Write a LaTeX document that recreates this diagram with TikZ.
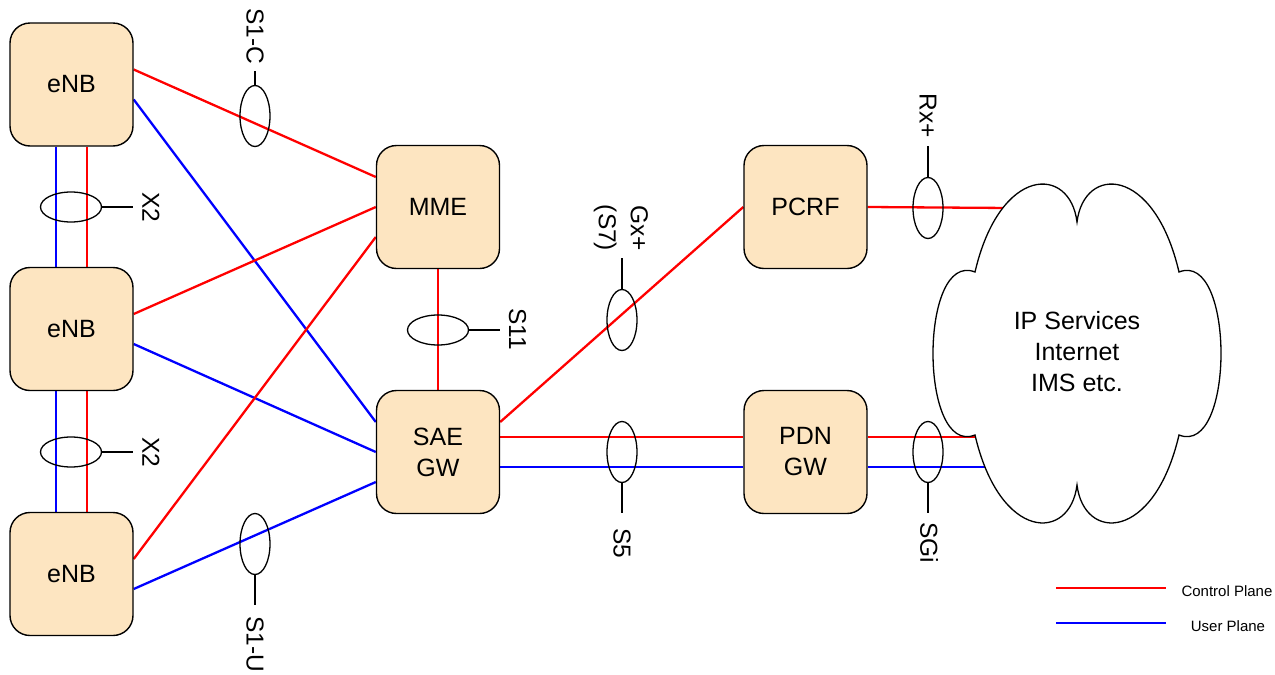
\documentclass[tikz,border=0pt]{standalone}
\usepackage{fontspec}
\setmainfont{Liberation Sans}
\usetikzlibrary{shapes.geometric,calc}
\pgfdeclarelayer{background}
\pgfsetlayers{background,main}
\definecolor{boxfill}{RGB}{253,229,193}
\begin{document}
\begin{tikzpicture}[x=1pt,y=-1pt,
  box/.style={draw=black, line width=1.4pt, fill=boxfill, rounded corners=20pt,
    minimum width=123pt, minimum height=123pt, align=center,
    font=\fontsize{25}{31}\selectfont, inner sep=0pt},
  ctrl/.style={draw={rgb,255:red,255;green,0;blue,0}, line width=2.3pt},
  usr/.style={draw={rgb,255:red,0;green,0;blue,255}, line width=2.3pt},
  ifc/.style={draw=black, ellipse, line width=1.3pt, inner sep=0pt},
  ifv/.style={ifc, minimum width=30pt, minimum height=61pt},
  ifh/.style={ifc, minimum width=61pt, minimum height=30pt},
  tail/.style={draw=black, line width=1.3pt},
  lbl/.style={rotate=-90, font=\fontsize{24.5}{32}\selectfont, inner sep=0pt, align=center},
  leg/.style={font=\fontsize{15}{18}\selectfont, inner sep=0pt},
]
\useasboundingbox (0,0) rectangle (1275,675);

% boxes
\node[box] (enb1) at (71.5,84.5) {eNB};
\node[box] (enb2) at (71.5,329) {eNB};
\node[box] (enb3) at (71.5,574) {eNB};
\node[box] (mme) at (438,207) {MME};
\node[box] (sae) at (438,452) {SAE\\GW};
\node[box] (pcrf) at (805.5,207) {PCRF};
\node[box] (pdn) at (805.5,452) {PDN\\GW};

% cloud end points
\coordinate (c1) at (1010,208);
\coordinate (c2) at (995,437);
\coordinate (c3) at (1000,467);

\begin{pgfonlayer}{background}
\draw[ctrl] ($(enb1.east)+(0,-15)$) -- ($(mme.west)+(0,-30)$);
\draw[usr]  ($(enb1.east)+(0,15)$)  -- ($(sae.west)+(0,-30)$);
\draw[ctrl] ($(enb2.east)+(0,-15)$) -- (mme.west);
\draw[usr]  ($(enb2.east)+(0,15)$)  -- (sae.west);
\draw[ctrl] ($(enb3.east)+(0,-15)$) -- ($(mme.west)+(0,30)$);
\draw[usr]  ($(enb3.east)+(0,15)$)  -- ($(sae.west)+(0,30)$);
\draw[usr]  ($(enb1.south)+(-15.5,0)$) -- ($(enb2.north)+(-15.5,0)$);
\draw[ctrl] ($(enb1.south)+(15.5,0)$)  -- ($(enb2.north)+(15.5,0)$);
\draw[usr]  ($(enb2.south)+(-15.5,0)$) -- ($(enb3.north)+(-15.5,0)$);
\draw[ctrl] ($(enb2.south)+(15.5,0)$)  -- ($(enb3.north)+(15.5,0)$);
\draw[ctrl] (mme.south) -- (sae.north);
\draw[ctrl] ($(sae.east)+(0,-30)$) -- (pcrf.west);
\draw[ctrl] ($(sae.east)+(0,-15)$) -- ($(pdn.west)+(0,-15)$);
\draw[usr]  ($(sae.east)+(0,15)$)  -- ($(pdn.west)+(0,15)$);
\draw[ctrl] (pcrf.east) -- (c1);
\draw[ctrl] ($(pdn.east)+(0,-15)$) -- (c2);
\draw[usr]  ($(pdn.east)+(0,15)$)  -- (c3);
\end{pgfonlayer}

% cloud
\draw[line width=1.3pt, fill=white]
  (975,272) .. controls (1000,165) and (1070,165) .. (1077,222)
  .. controls (1084,165) and (1154,165) .. (1179,272)
  .. controls (1235,250) and (1235,457) .. (1179,435)
  .. controls (1154,542) and (1084,542) .. (1077,485)
  .. controls (1070,542) and (1000,542) .. (975,435)
  .. controls (919,457) and (919,250) .. (975,272) -- cycle;
\node[align=center, font=\fontsize{25}{31}\selectfont, inner sep=0pt] (cloud) at (1077,352) {IP Services\\Internet\\IMS etc.};

% interface markers
\node[ifv] (s1c) at (255,116) {};
\coordinate (s1cT) at (255,71);
\draw[tail] (s1c.north) -- (s1cT);
\node[lbl] (s1cL) at (255,36) {S1-C};

\node[ifh] (x2a) at (71,207) {};
\coordinate (x2aT) at (133,207);
\draw[tail] (x2a.east) -- (x2aT);
\node[lbl] (x2aL) at (151,207.5) {X2};

\node[ifh] (x2b) at (71,452) {};
\coordinate (x2bT) at (133,452);
\draw[tail] (x2b.east) -- (x2bT);
\node[lbl] (x2bL) at (151,452.5) {X2};

\node[ifv] (s1u) at (255,544) {};
\coordinate (s1uT) at (255,605);
\draw[tail] (s1u.south) -- (s1uT);
\node[lbl] (s1uL) at (255,644) {S1-U};

\node[ifh] (s11) at (438,330) {};
\coordinate (s11T) at (500,330);
\draw[tail] (s11.east) -- (s11T);
\node[lbl] (s11L) at (517.5,329) {S11};

\node[ifv] (gx) at (622,320) {};
\coordinate (gxT) at (622,258);
\draw[tail] (gx.north) -- (gxT);
\node[lbl] (gxL) at (621,228) {Gx+\\(S7)};

\node[ifv] (s5) at (622,452) {};
\coordinate (s5T) at (622,513);
\draw[tail] (s5.south) -- (s5T);
\node[lbl] (s5L) at (622,543) {S5};

\node[ifv] (rx) at (928,208) {};
\coordinate (rxT) at (928,146);
\draw[tail] (rx.north) -- (rxT);
\node[lbl] (rxL) at (928,115.5) {Rx+};

\node[ifv] (sgi) at (928,452) {};
\coordinate (sgiT) at (928,513);
\draw[tail] (sgi.south) -- (sgiT);
\node[lbl] (sgiL) at (929,543) {SGi};

% legend
\coordinate (lc1) at (1056,588);
\coordinate (lc2) at (1166,588);
\coordinate (lu1) at (1056,623);
\coordinate (lu2) at (1166,623);
\draw[ctrl] (lc1) -- (lc2);
\draw[usr] (lu1) -- (lu2);
\node[leg] (lcL) at (1227,591) {Control Plane};
\node[leg] (luL) at (1228,626) {User Plane};
\end{tikzpicture}
\end{document}
